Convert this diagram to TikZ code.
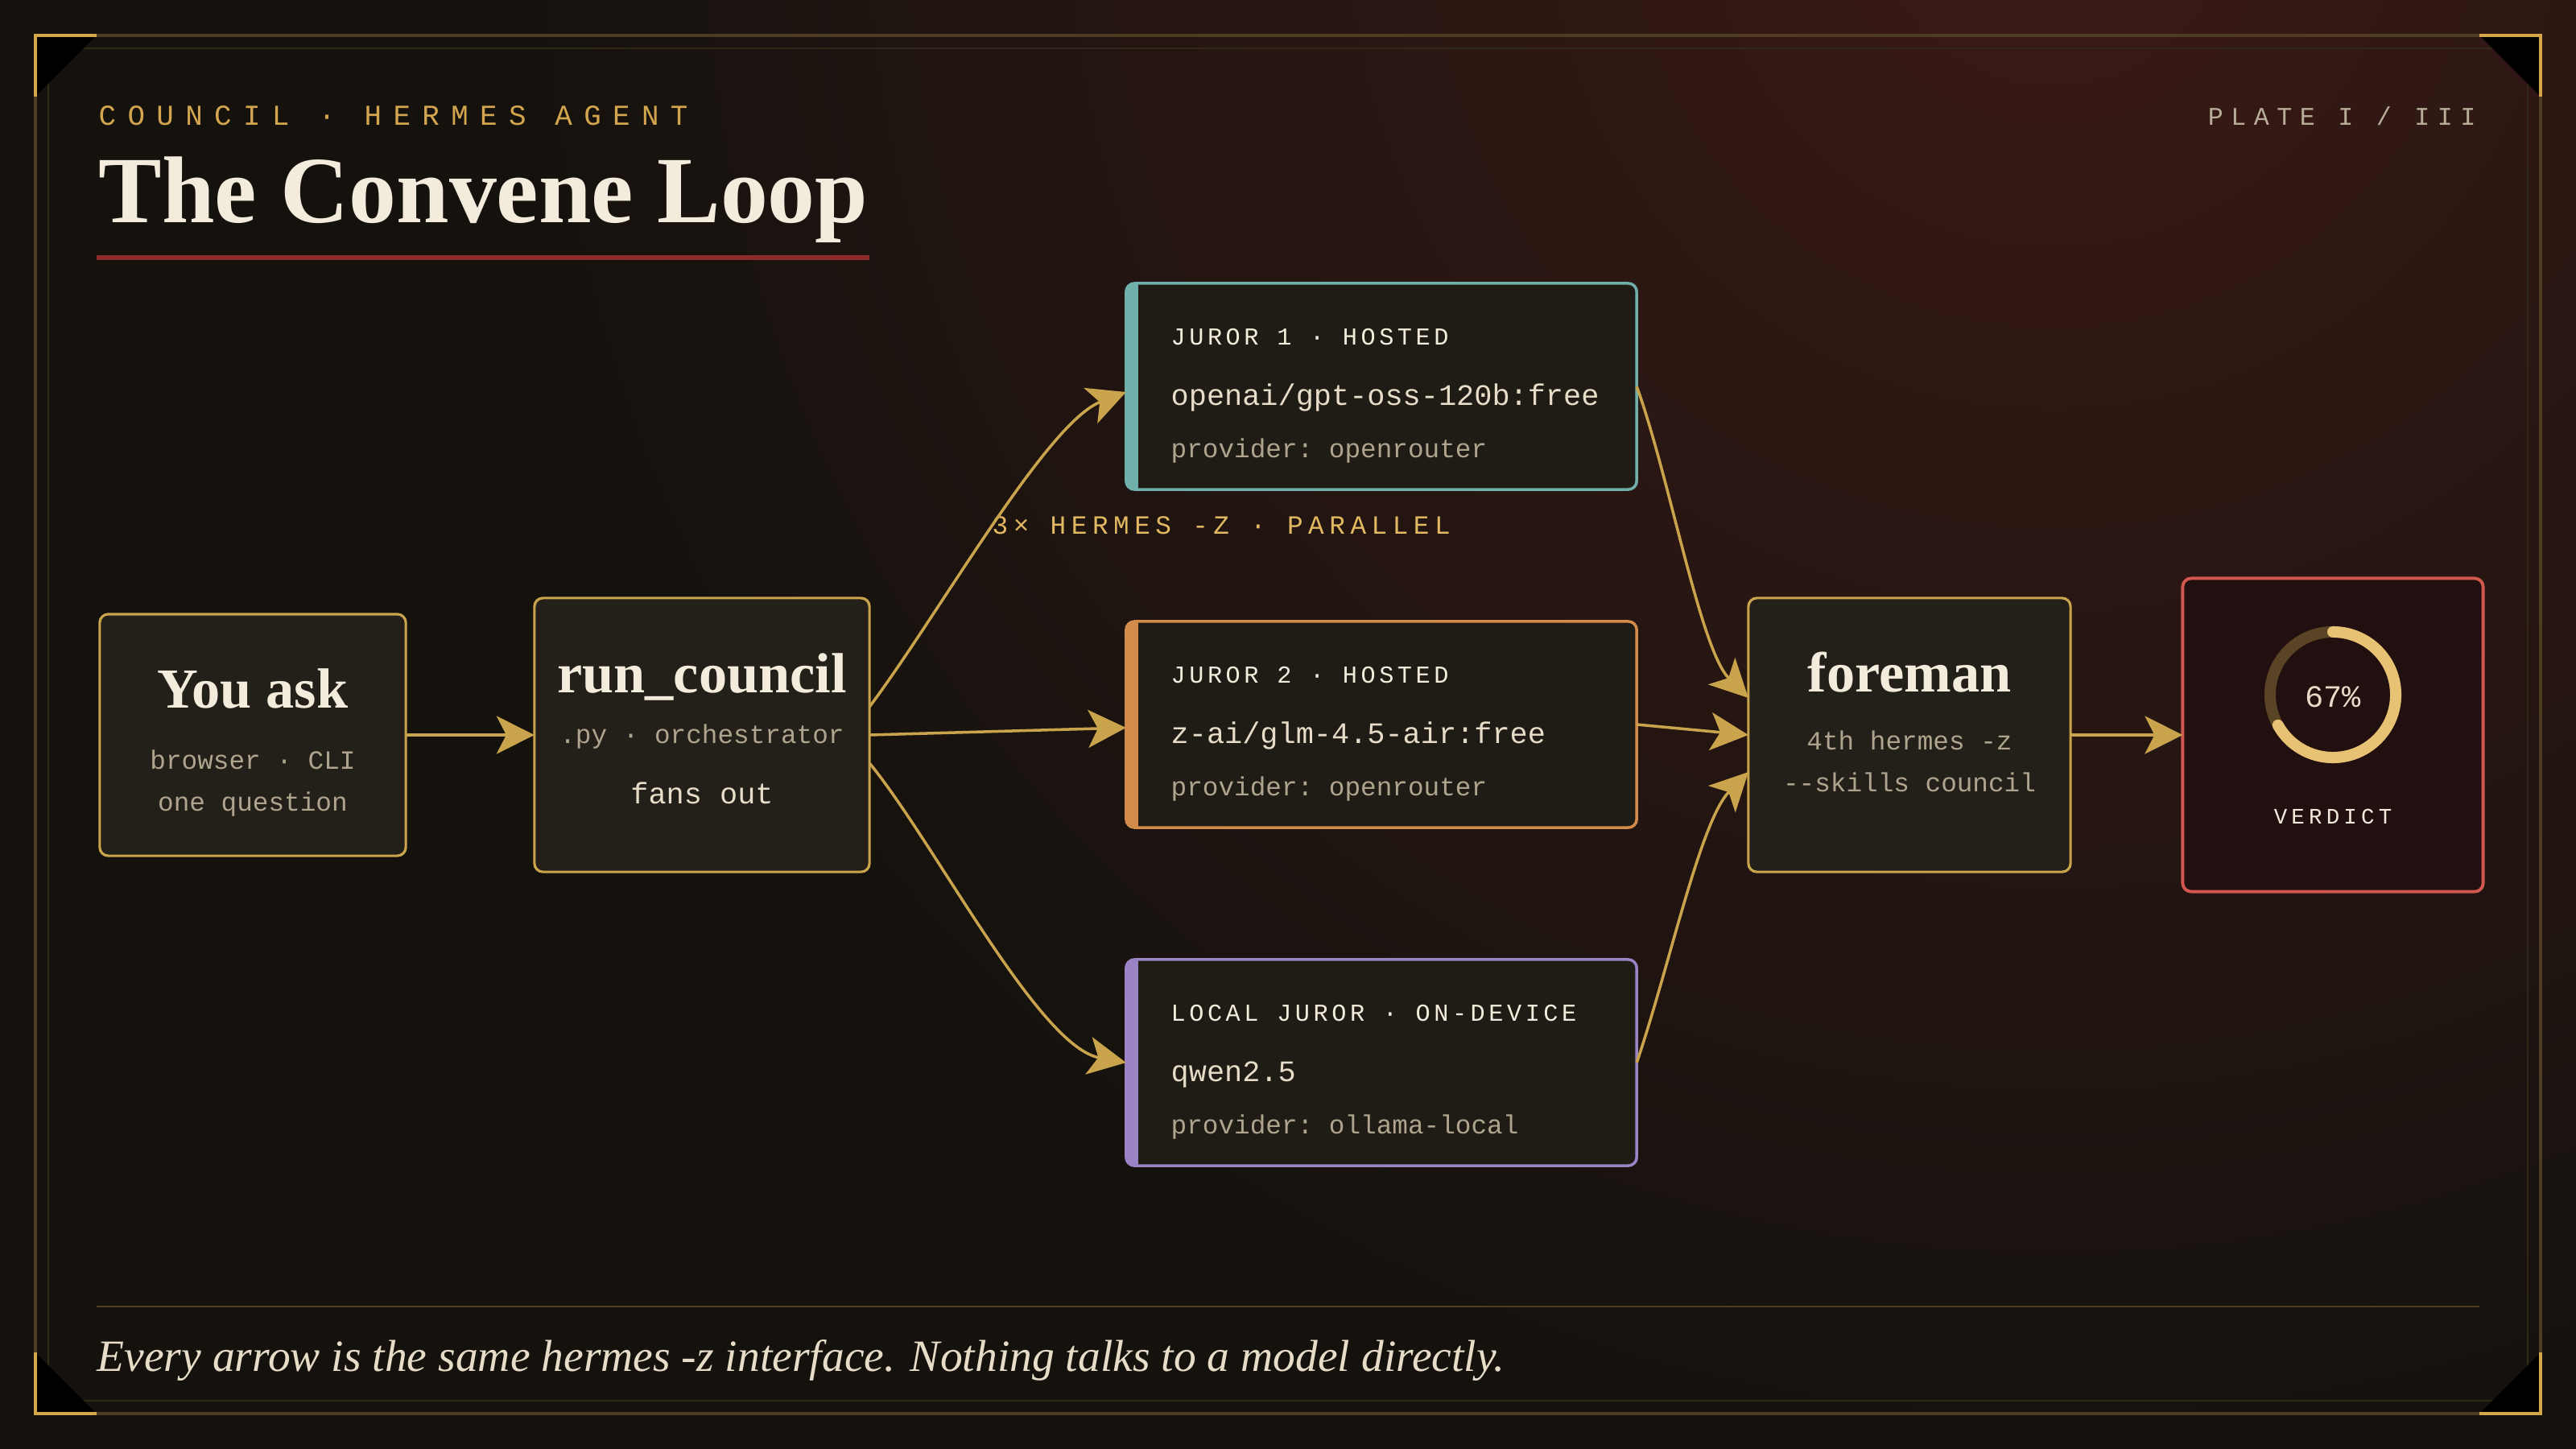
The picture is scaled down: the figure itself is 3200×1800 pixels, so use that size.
\documentclass[tikz,border=0pt]{standalone}
\usepackage{fontspec}
\setmainfont{Liberation Serif}
\setmonofont{Liberation Mono}
\usetikzlibrary{arrows.meta}

% palette
\definecolor{bgdark}{HTML}{15120E}
\definecolor{bgglow}{HTML}{3B1A16}
\definecolor{framegold}{HTML}{4E3D22}
\definecolor{frameinner}{HTML}{30271A}
\definecolor{brightgold}{HTML}{D4A84A}
\definecolor{linegold}{HTML}{C9A44C}
\definecolor{titlegold}{HTML}{D2A54E}
\definecolor{labelgold}{HTML}{E2B862}
\definecolor{cream}{HTML}{F3ECDC}
\definecolor{modelcream}{HTML}{E6DCC7}
\definecolor{bodygrey}{HTML}{AFA48D}
\definecolor{plategrey}{HTML}{B8AD97}
\definecolor{boxfill}{HTML}{231F19}
\definecolor{jurorfill}{HTML}{1F1C16}
\definecolor{jurorteal}{HTML}{6FB0AA}
\definecolor{jurororange}{HTML}{D38B4B}
\definecolor{jurorpurple}{HTML}{9A84C6}
\definecolor{verdictred}{HTML}{D2574E}
\definecolor{verdictfill}{HTML}{220F0F}
\definecolor{ringtrack}{HTML}{5A4426}
\definecolor{ringgold}{HTML}{E8C274}
\definecolor{underred}{HTML}{8F2A2A}

\newcommand{\spaced}[1]{\addfontfeatures{LetterSpace=#1}}

\tikzset{
  boxgold/.style={draw=linegold, line width=0.9pt, fill=boxfill, rounded corners=3pt, inner sep=0pt, outer sep=0pt},
  boxjuror/.style={draw=#1, line width=1pt, fill=jurorfill, rounded corners=3pt, inner sep=0pt, outer sep=0pt,
    minimum width=6.34cm, minimum height=2.56cm},
  headline/.style={font=\bfseries\fontsize{20}{24}\selectfont, text=cream, anchor=base, inner sep=0pt},
  subline/.style={font=\ttfamily\fontsize{9.3}{11}\selectfont, text=bodygrey, anchor=base, inner sep=0pt},
  modelline/.style={font=\ttfamily\fontsize{10.5}{12}\selectfont, text=modelcream, anchor=base west, inner sep=0pt},
  jurortag/.style={font=\ttfamily\fontsize{8.6}{10}\selectfont\spaced{15}, text=cream, anchor=base west, inner sep=0pt},
  flow/.style={draw=linegold, line width=1pt, -{Stealth[length=0.47cm,width=0.47cm,inset=0.12cm]}},
}

\begin{document}
\begin{tikzpicture}[x=0.01cm,y=-0.01cm]
\useasboundingbox (0,0) rectangle (3200,1800);

% Background with warm glow top right.
\fill[bgdark] (0,0) rectangle (3200,1800);
\begin{scope}
\clip (0,0) rectangle (3200,1800);
\shade[inner color=bgglow, outer color=bgdark] (2550,-120) circle (19cm);
\end{scope}

% Plate frame.
\draw[framegold, line width=0.9pt] (44,44) rectangle (3156,1756);
\draw[frameinner, line width=0.55pt] (60,60) rectangle (3140,1740);
\draw[framegold, line width=0.6pt] (120,1623) -- (3080,1623);

% Corner brackets.
\fill[black] (44,44) -- (120,44) -- (44,120) -- cycle;
\draw[brightgold, line width=1.2pt] (120,44) -- (44,44) -- (44,120);
\fill[black] (3156,44) -- (3080,44) -- (3156,120) -- cycle;
\draw[brightgold, line width=1.2pt] (3080,44) -- (3156,44) -- (3156,120);
\fill[black] (44,1756) -- (120,1756) -- (44,1680) -- cycle;
\draw[brightgold, line width=1.2pt] (44,1680) -- (44,1756) -- (120,1756);
\fill[black] (3156,1756) -- (3080,1756) -- (3156,1680) -- cycle;
\draw[brightgold, line width=1.2pt] (3156,1680) -- (3156,1756) -- (3080,1756);

% Header.
\node[font=\ttfamily\fontsize{10.2}{12}\selectfont\spaced{40}, text=titlegold, anchor=base west, inner sep=0pt]
  (kicker) at (122,156) {COUNCIL · HERMES AGENT};
\node[font=\bfseries\fontsize{33.5}{40}\selectfont, text=cream, anchor=base west, inner sep=0pt]
  (title) at (122,277) {The Convene Loop};
\fill[underred] (120,317) rectangle (1080,323);
\node[font=\ttfamily\fontsize{9}{11}\selectfont\spaced{30}, text=plategrey, anchor=base east, inner sep=0pt]
  (plate) at (3076,156) {PLATE I / III};

% Question and orchestrator.
\node[boxgold, minimum width=3.8cm, minimum height=3cm] (ask) at (314,913) {};
\node[headline] (asktitle) at (314,879) {You ask};
\node[subline] (asksub) at (314,955) {browser · CLI};
\node[subline] (askq) at (314,1007) {one question};

\node[boxgold, minimum width=4.16cm, minimum height=3.4cm] (council) at (872,913) {};
\node[headline] (counciltitle) at (872,860) {run\_council};
\node[subline] (councilsub) at (872,923) {.py · orchestrator};
\node[subline, font=\ttfamily\fontsize{10.5}{12}\selectfont, text=modelcream] (councilfan) at (872,998) {fans out};

% Jurors.
\node[boxjuror=jurorteal] (j1) at (1716,480) {};
\node[boxjuror=jurororange] (j2) at (1716,900) {};
\node[boxjuror=jurorpurple] (j3) at (1716,1320) {};
\begin{scope}
\clip[rounded corners=3pt] (j1.north west) rectangle (j1.south east);
\fill[jurorteal] (j1.north west) rectangle ([xshift=0.15cm]j1.south west);
\end{scope}
\begin{scope}
\clip[rounded corners=3pt] (j2.north west) rectangle (j2.south east);
\fill[jurororange] (j2.north west) rectangle ([xshift=0.15cm]j2.south west);
\end{scope}
\begin{scope}
\clip[rounded corners=3pt] (j3.north west) rectangle (j3.south east);
\fill[jurorpurple] (j3.north west) rectangle ([xshift=0.15cm]j3.south west);
\end{scope}

\node[jurortag] (j1tag) at (1454,428) {JUROR 1 · HOSTED};
\node[modelline] (j1model) at (1454,503) {openai/gpt-oss-120b:free};
\node[subline, anchor=base west] (j1prov) at (1454,568) {provider: openrouter};

\node[jurortag] (j2tag) at (1454,848) {JUROR 2 · HOSTED};
\node[modelline] (j2model) at (1454,923) {z-ai/glm-4.5-air:free};
\node[subline, anchor=base west] (j2prov) at (1454,988) {provider: openrouter};

\node[jurortag] (j3tag) at (1454,1268) {LOCAL JUROR · ON-DEVICE};
\node[modelline] (j3model) at (1454,1343) {qwen2.5};
\node[subline, anchor=base west] (j3prov) at (1454,1408) {provider: ollama-local};

\node[font=\ttfamily\fontsize{9.3}{11}\selectfont\spaced{20}, text=labelgold, anchor=base west, inner sep=0pt]
  (parallel) at (1232,663) {3× HERMES -Z · PARALLEL};

% Foreman and verdict.
\node[boxgold, minimum width=4cm, minimum height=3.4cm] (fore) at (2372,913) {};
\node[headline] (foretitle) at (2372,859) {foreman};
\node[subline] (foresub) at (2372,931) {4th hermes -z};
\node[subline] (foreskill) at (2372,983) {-{}-skills council};

\node[draw=verdictred, line width=1.1pt, fill=verdictfill, rounded corners=3pt, inner sep=0pt, outer sep=0pt,
  minimum width=3.73cm, minimum height=3.89cm] (verdict) at (2898,913) {};
\coordinate (ring) at (2898,863);
\draw[ringtrack, line width=0.14cm] (ring) circle (0.78cm);
\draw[ringgold, line width=0.14cm, line cap=round] (ring) ++(90:0.78cm) arc[start angle=90, end angle=-151, radius=0.78cm];
\node[font=\ttfamily\fontsize{11}{13}\selectfont, text=modelcream, anchor=base, inner sep=0pt] (pct) at (2898,878) {67\%};
\node[font=\ttfamily\fontsize{7.8}{10}\selectfont\spaced{19}, text=cream, anchor=base, inner sep=0pt] (vlabel) at (2898,1023) {VERDICT};

% Connectors.
\draw[flow] (ask) -- (council);
\draw[flow] ([yshift=0.35cm]council.east) .. controls (1165,765) and (1300,525) .. ([yshift=-0.07cm]j1.west);
\draw[flow] (council.east) -- ([yshift=-0.04cm]j2.west);
\draw[flow] ([yshift=-0.35cm]council.east) .. controls (1160,1045) and (1290,1300) .. (j3.west);
\draw[flow] (j1.east) .. controls (2074,593) and (2112,807) .. ([yshift=0.46cm]fore.west);
\draw[flow] (j2.east) -- (fore.west);
\draw[flow] (j3.east) .. controls (2074,1200) and (2112,1020) .. ([yshift=-0.46cm]fore.west);
\draw[flow] (fore) -- (verdict);

% Footer note.
\node[font=\itshape\fontsize{15.8}{18}\selectfont, text=modelcream, anchor=base west, inner sep=0pt]
  (note) at (120,1703) {Every arrow is the same hermes -z interface. Nothing talks to a model directly.};
\end{tikzpicture}
\end{document}
